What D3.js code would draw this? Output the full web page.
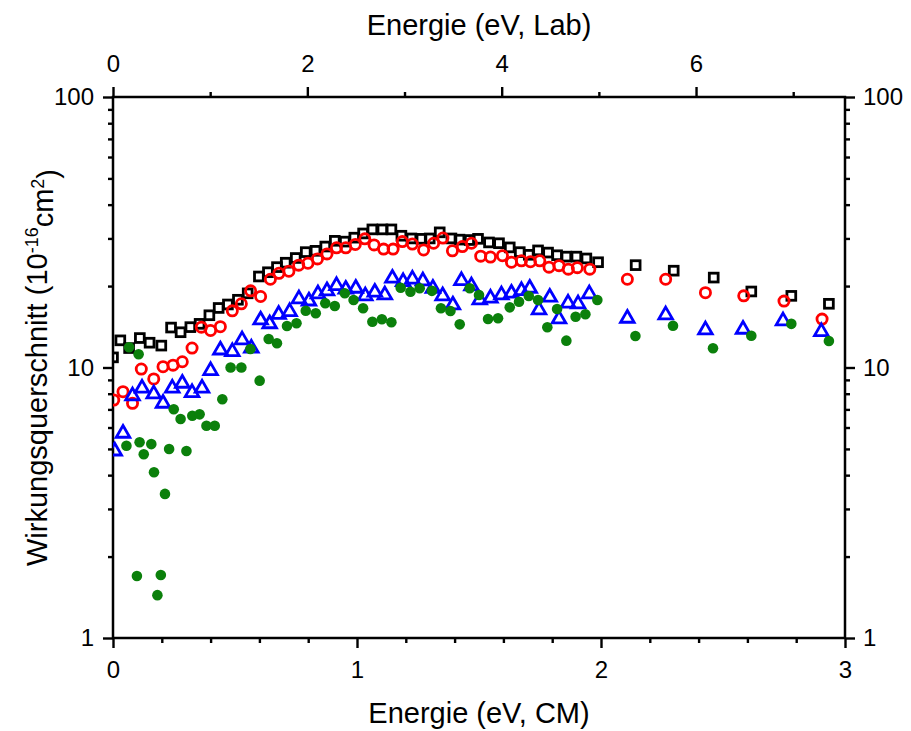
<!DOCTYPE html>
<html>
<head>
<meta charset="utf-8">
<script src="https://cdn.jsdelivr.net/npm/d3@7"></script>
<style>
  body { margin: 0; background: #fff; }
  text { font-family: Arial, "Liberation Sans", sans-serif; fill: #000; }
</style>
</head>
<body>
<div id="chart"></div>
<script>
// Energie (eV, CM) and Wirkungsquerschnitt (1e-16 cm^2)
var sqE = [0.00,0.03,0.066,0.11,0.15,0.198,0.238,0.277,0.317,0.355,0.395,0.433,0.471,0.512,0.552,0.598,0.635,0.672,0.708,0.749,0.79,0.83,0.87,0.909,0.95,0.989,1.025,1.063,1.104,1.141,1.182,1.223,1.264,1.298,1.339,1.387,1.42,1.462,1.496,1.541,1.582,1.626,1.667,1.704,1.742,1.783,1.82,1.858,1.899,1.94,1.988,2.142,2.298,2.462,2.616,2.78,2.934];
var sqV = [10.9,12.6,11.8,12.85,12.35,12.05,14.05,13.5,14.1,14.5,15.6,16.6,17.1,17.8,18.8,21.7,22.5,23.5,24.4,25.4,26.7,27.0,28.0,29.4,29.2,30.2,31.3,32.4,32.4,32.4,30.7,30.0,29.9,30.0,31.6,30.0,29.7,29.6,29.9,29.0,28.8,27.8,26.7,26.1,27.1,26.6,26.0,25.7,25.7,25.3,24.5,23.9,22.8,21.5,19.1,18.4,17.2];

var ciE = [0.003,0.041,0.08,0.116,0.167,0.205,0.246,0.284,0.324,0.362,0.40,0.44,0.489,0.526,0.564,0.605,0.645,0.68,0.721,0.761,0.799,0.838,0.877,0.916,0.954,0.993,1.032,1.07,1.109,1.148,1.186,1.227,1.273,1.314,1.352,1.391,1.432,1.469,1.507,1.547,1.596,1.633,1.674,1.711,1.749,1.787,1.828,1.866,1.903,1.954,2.108,2.265,2.428,2.585,2.75,2.906];
var ciV = [7.58,8.14,7.37,9.87,9.07,10.07,10.2,10.5,11.8,14.1,13.7,14.15,16.2,17.2,19.2,18.3,21.2,22.3,22.7,23.9,24.3,25.2,26.3,27.7,27.7,28.5,29.9,28.4,27.4,27.4,29.2,28.6,27.2,28.8,30.1,27.0,28.0,28.8,25.8,25.6,25.9,24.5,24.8,24.6,24.8,23.5,23.8,23.1,23.4,23.1,21.2,21.2,18.9,18.4,17.6,15.1];

var trE = [0.007,0.041,0.08,0.119,0.167,0.205,0.243,0.284,0.324,0.365,0.40,0.44,0.489,0.529,0.567,0.605,0.642,0.679,0.724,0.762,0.803,0.84,0.877,0.916,0.954,0.995,1.034,1.073,1.114,1.145,1.189,1.227,1.27,1.311,1.351,1.393,1.428,1.469,1.503,1.547,1.592,1.633,1.674,1.708,1.746,1.79,1.828,1.865,1.906,1.952,2.108,2.265,2.428,2.582,2.746,2.903];
var trV = [4.91,5.71,7.85,8.38,7.98,7.37,8.38,8.74,8.07,8.38,9.73,11.6,11.44,12.64,11.78,14.98,14.5,15.7,16.08,17.92,17.6,18.7,19.2,20.06,19.46,19.62,18.38,18.97,18.54,21.37,20.76,21.2,20.88,19.62,18.4,17.02,20.94,20.01,17.77,18.03,18.54,18.81,19.23,19.62,16.32,18.18,15.11,17.28,17.17,18.7,15.2,15.64,13.76,13.84,14.86,13.56];

var grE = [0.055,0.066,0.098,0.105,0.109,0.126,0.157,0.168,0.182,0.196,0.213,0.23,0.249,0.277,0.301,0.325,0.355,0.383,0.417,0.448,0.482,0.526,0.563,0.601,0.638,0.672,0.713,0.752,0.79,0.831,0.87,0.909,0.95,0.986,1.025,1.063,1.102,1.141,1.179,1.219,1.257,1.307,1.344,1.383,1.421,1.462,1.5,1.537,1.578,1.626,1.664,1.704,1.742,1.78,1.82,1.858,1.896,1.936,1.985,2.141,2.295,2.459,2.616,2.78,2.934];
var grV = [5.14,11.88,1.695,11.19,5.29,4.78,5.21,4.10,1.44,1.71,3.41,5.0,7.01,6.45,4.91,6.63,6.71,6.09,6.09,7.63,10.0,10.0,11.7,8.94,12.75,12.29,14.24,14.57,16.22,15.86,17.28,16.88,18.81,17.77,16.55,14.77,15.08,14.69,19.72,19.06,19.62,19.2,16.55,16.18,14.44,19.62,18.54,15.11,15.2,16.69,17.51,18.38,17.77,14.08,16.45,12.57,15.41,15.73,17.77,13.08,14.27,11.78,13.11,14.5,12.53];

// tick values
var cmMajor = [0, 1, 2, 3];
var cmMinor = [0.2,0.4,0.6,0.8,1.2,1.4,1.6,1.8,2.2,2.4,2.6,2.8];
var labMajor = [0, 2, 4, 6];
var labMinor = [1, 3, 5, 7];
var yMajor = [1, 10, 100];
var yMinor = [2,3,4,5,6,7,8,9,20,30,40,50,60,70,80,90];
var labPerCm = 2.511;

var W = 911, H = 731;
var margin = {top: 97, right: 66, bottom: 93, left: 113},
	width = W - margin.left - margin.right,
	height = H - margin.top - margin.bottom;

var xScale = d3.scaleLinear().domain([0, 3]).range([0, width]),
	labScale = d3.scaleLinear().domain([0, 3 * labPerCm]).range([0, width]),
	yScale = d3.scaleLog().domain([1, 100]).range([height, 0]);

var svg = d3.select("#chart").append("svg")
	.attr("width", W)
	.attr("height", H)
	.append("g")
	.attr("transform", "translate(" + margin.left + "," + margin.top + ")");

svg.append("clipPath").attr("id", "plotclip")
	.append("rect").attr("width", width).attr("height", height);

// axes: major ticks with labels, minor ticks without
function styleAxis(g) {
	g.select(".domain").remove();
	g.selectAll("line").attr("stroke", "#000").attr("stroke-width", 2.4);
	g.selectAll("text").style("font-size", "24px").style("font-family", "Arial, 'Liberation Sans', sans-serif");
}
var fmt = d3.format("d");

svg.append("g").attr("transform", "translate(0," + height + ")")
	.call(d3.axisBottom(xScale).tickValues(cmMajor).tickFormat(fmt).tickSize(10).tickPadding(13))
	.call(styleAxis);
svg.append("g").attr("transform", "translate(0," + height + ")")
	.call(d3.axisBottom(xScale).tickValues(cmMinor).tickFormat("").tickSize(5))
	.call(styleAxis);

svg.append("g")
	.call(d3.axisTop(labScale).tickValues(labMajor).tickFormat(fmt).tickSize(10).tickPadding(15))
	.call(styleAxis);
svg.append("g")
	.call(d3.axisTop(labScale).tickValues(labMinor).tickFormat("").tickSize(5))
	.call(styleAxis);

svg.append("g")
	.call(d3.axisLeft(yScale).tickValues(yMajor).tickFormat(fmt).tickSize(10).tickPadding(9))
	.call(styleAxis);
svg.append("g")
	.call(d3.axisLeft(yScale).tickValues(yMinor).tickFormat("").tickSize(5))
	.call(styleAxis);

svg.append("g").attr("transform", "translate(" + width + ",0)")
	.call(d3.axisRight(yScale).tickValues(yMajor).tickFormat(fmt).tickSize(10).tickPadding(8))
	.call(styleAxis);
svg.append("g").attr("transform", "translate(" + width + ",0)")
	.call(d3.axisRight(yScale).tickValues(yMinor).tickFormat("").tickSize(5))
	.call(styleAxis);

// frame
svg.append("rect")
	.attr("width", width)
	.attr("height", height)
	.attr("fill", "none")
	.attr("stroke", "#000")
	.attr("stroke-width", 2.5);

// data
var plot = svg.append("g").attr("clip-path", "url(#plotclip)");

function pts(E, V) { return E.map(function(e, i) { return {e: e, v: V[i]}; }); }

plot.append("g").selectAll("rect")
	.data(pts(sqE, sqV))
	.enter().append("rect")
	.attr("x", function(d) { return xScale(d.e) - 4.4; })
	.attr("y", function(d) { return yScale(d.v) - 4.4; })
	.attr("width", 8.8).attr("height", 8.8)
	.attr("fill", "none").attr("stroke", "#000").attr("stroke-width", 2.8);

plot.append("g").selectAll("circle")
	.data(pts(ciE, ciV))
	.enter().append("circle")
	.attr("cx", function(d) { return xScale(d.e); })
	.attr("cy", function(d) { return yScale(d.v); })
	.attr("r", 5.1)
	.attr("fill", "none").attr("stroke", "#ff0000").attr("stroke-width", 2.8);

var tri = d3.symbol().type(d3.symbolTriangle).size(80);
plot.append("g").selectAll("path")
	.data(pts(trE, trV))
	.enter().append("path")
	.attr("d", tri)
	.attr("transform", function(d) { return "translate(" + xScale(d.e) + "," + yScale(d.v) + ")"; })
	.attr("fill", "none").attr("stroke", "#0000ff").attr("stroke-width", 2.8).attr("stroke-linejoin", "miter");

plot.append("g").selectAll("circle")
	.data(pts(grE, grV))
	.enter().append("circle")
	.attr("cx", function(d) { return xScale(d.e); })
	.attr("cy", function(d) { return yScale(d.v); })
	.attr("r", 5.3)
	.attr("fill", "#0b800b");

// titles
svg.append("text")
	.attr("x", width / 2).attr("y", height + 85)
	.attr("text-anchor", "middle")
	.style("font-size", "29px")
	.text("Energie (eV, CM)");

svg.append("text")
	.attr("x", width / 2).attr("y", -62)
	.attr("text-anchor", "middle")
	.style("font-size", "29px")
	.text("Energie (eV, Lab)");

var yl = svg.append("text")
	.attr("transform", "translate(" + (-66) + "," + (height / 2) + ") rotate(-90)")
	.attr("text-anchor", "middle")
	.style("font-size", "29px");
yl.append("tspan").text("Wirkungsquerschnitt (10");
yl.append("tspan").attr("dy", "-0.5em").style("font-size", "18px").text("-16");
yl.append("tspan").attr("dy", "0.5em").text("cm");
yl.append("tspan").attr("dy", "-0.5em").style("font-size", "18px").text("2");
yl.append("tspan").attr("dy", "0.5em").text(")");
</script>
</body>
</html>
